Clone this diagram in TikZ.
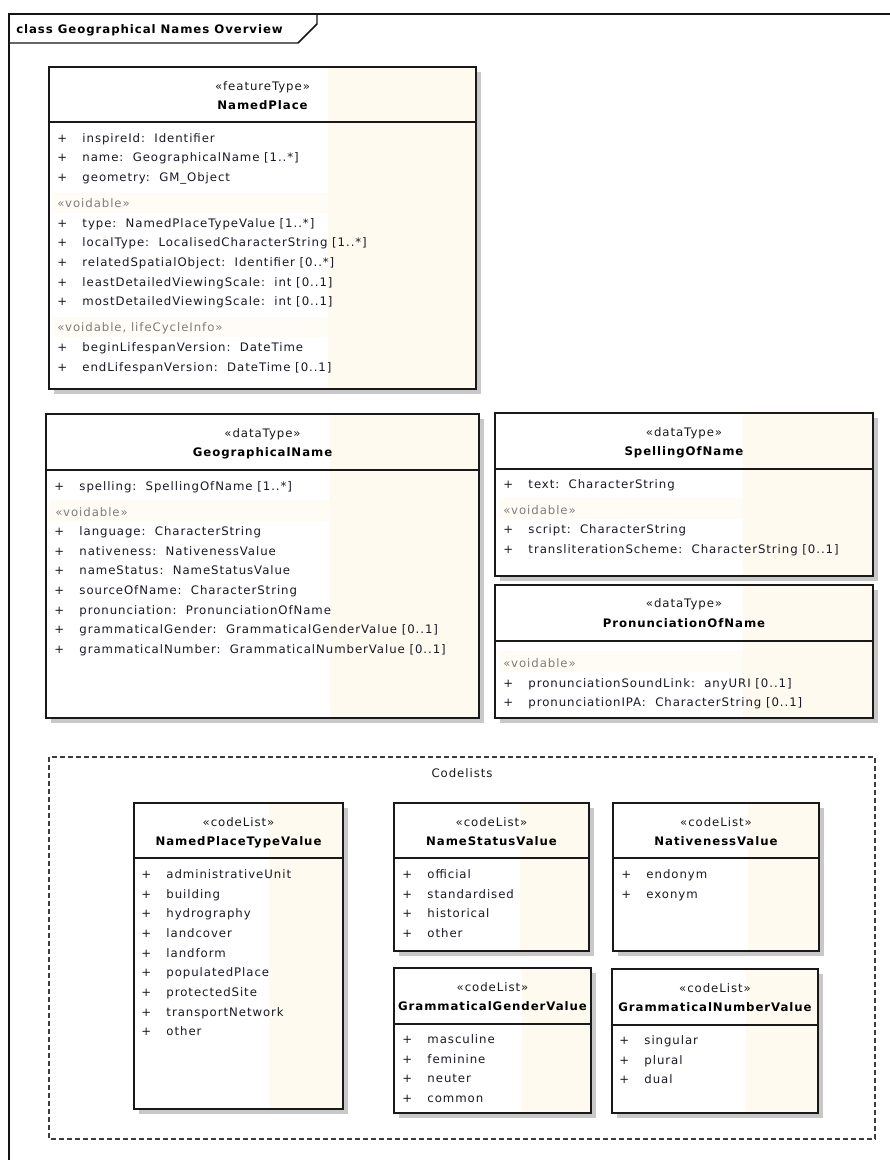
\documentclass[tikz,border=0pt]{standalone}
\usepackage{fontspec}
\newfontfamily\umlfont[LetterSpace=8]{DejaVu Sans}
\begin{document}
\begin{tikzpicture}[x=0.75pt,y=0.75pt,yscale=-1,
	font=\umlfont\fontsize{8.8}{10}\selectfont,
	frame/.style={color={rgb, 255:red, 20; green, 20; blue, 20 },line width=1.1},
	shadow/.style={draw opacity=0,fill={rgb, 255:red, 200; green, 200; blue, 200 }},
	body/.style={draw opacity=0,fill=white},
	cream/.style={draw opacity=0,fill={rgb, 255:red, 255; green, 250; blue, 240 }},
	band/.style={draw opacity=0,fill={rgb, 255:red, 255; green, 252; blue, 245 }},
	classbox/.style={color={rgb, 255:red, 25; green, 25; blue, 25 },line width=1.1},
	stereo/.style={inner sep=0pt,text height=8pt,text depth=1.2pt,color={rgb, 255:red, 25; green, 25; blue, 25 }},
	cname/.style={inner sep=0pt,text height=8pt,text depth=1.2pt,font=\umlfont\bfseries\fontsize{8.8}{10}\selectfont},
	voidable/.style={anchor=west,inner sep=0pt,text height=8pt,text depth=1.2pt,color={rgb, 255:red, 125; green, 125; blue, 125 }},
	attr/.style={anchor=west,inner sep=0pt,text height=8pt,text depth=1.2pt,color={rgb, 255:red, 25; green, 25; blue, 35 },execute at begin node={\makebox[18.9pt][l]{+}}}]
			\useasboundingbox (0,0) rectangle (889,1160);
			
			%Straight Lines
			\draw [frame] (9,1170) -- (9,14) -- (900,14) ;
			\draw [frame] (9,43) -- (298,43) -- (317,24) -- (317,14) ;
			% Text Node
			\draw (16,29) node [cname,anchor=west] (title) {class Geographical Names Overview};
			
			%Shape: Rectangle (NamedPlace)
			\draw [shadow] (54,72) rectangle (481,394) ;
			\draw [body] (49,67) rectangle (476,389) ;
			\draw [cream] (328,67) rectangle (476,389) ;
			\draw [band] (53,193) rectangle (328,213) ;
			\draw [band] (53,317) rectangle (328,337) ;
			\draw [classbox] (49,67) rectangle (476,389) ;
			\draw [classbox] (49,122) -- (476,122) ;
			% Text Node
			\draw (262.5,86) node [stereo] (npS) {«featureType»};
			\draw (262.5,105) node [cname] (npN) {NamedPlace};
			\draw (57,138) node [attr] (np1) {inspireId:~~Identifier};
			\draw (57,157) node [attr] (np2) {name:~~GeographicalName [1..*]};
			\draw (57,177) node [attr] (np3) {geometry:~~GM\_Object};
			\draw (57,203) node [voidable] (npV1) {«voidable»};
			\draw (57,223) node [attr] (np4) {type:~~NamedPlaceTypeValue [1..*]};
			\draw (57,242) node [attr] (np5) {localType:~~LocalisedCharacterString [1..*]};
			\draw (57,262) node [attr] (np6) {relatedSpatialObject:~~Identifier [0..*]};
			\draw (57,282) node [attr] (np7) {leastDetailedViewingScale:~~int [0..1]};
			\draw (57,301) node [attr] (np8) {mostDetailedViewingScale:~~int [0..1]};
			\draw (57,327) node [voidable] (npV2) {«voidable, lifeCycleInfo»};
			\draw (57,347) node [attr] (np9) {beginLifespanVersion:~~DateTime};
			\draw (57,367) node [attr] (np10) {endLifespanVersion:~~DateTime [0..1]};
			
			%Shape: Rectangle (GeographicalName)
			\draw [shadow] (51,419) rectangle (484,723) ;
			\draw [body] (46,414) rectangle (479,718) ;
			\draw [cream] (330,414) rectangle (479,718) ;
			\draw [band] (50,500) rectangle (330,521) ;
			\draw [classbox] (46,414) rectangle (479,718) ;
			\draw [classbox] (46,470) -- (479,470) ;
			% Text Node
			\draw (262.5,433) node [stereo] (gnS) {«dataType»};
			\draw (262.5,452) node [cname] (gnN) {GeographicalName};
			\draw (54,486) node [attr] (gn1) {spelling:~~SpellingOfName [1..*]};
			\draw (55,512) node [voidable] (gnV) {«voidable»};
			\draw (54,531) node [attr] (gn2) {language:~~CharacterString};
			\draw (54,551) node [attr] (gn3) {nativeness:~~NativenessValue};
			\draw (54,570) node [attr] (gn4) {nameStatus:~~NameStatusValue};
			\draw (54,590) node [attr] (gn5) {sourceOfName:~~CharacterString};
			\draw (54,610) node [attr] (gn6) {pronunciation:~~PronunciationOfName};
			\draw (54,629) node [attr] (gn7) {grammaticalGender:~~GrammaticalGenderValue [0..1]};
			\draw (54,649) node [attr] (gn8) {grammaticalNumber:~~GrammaticalNumberValue [0..1]};
			
			%Shape: Rectangle (SpellingOfName)
			\draw [shadow] (500,418) rectangle (878,581) ;
			\draw [body] (495,413) rectangle (873,576) ;
			\draw [cream] (743,413) rectangle (873,576) ;
			\draw [band] (499,498) rectangle (743,519) ;
			\draw [classbox] (495,413) rectangle (873,576) ;
			\draw [classbox] (495,469) -- (873,469) ;
			% Text Node
			\draw (684,432) node [stereo] (soS) {«dataType»};
			\draw (684,451) node [cname] (soN) {SpellingOfName};
			\draw (503,484) node [attr] (so1) {text:~~CharacterString};
			\draw (503,510) node [voidable] (soV) {«voidable»};
			\draw (503,529) node [attr] (so2) {script:~~CharacterString};
			\draw (503,549) node [attr] (so3) {transliterationScheme:~~CharacterString [0..1]};
			
			%Shape: Rectangle (PronunciationOfName)
			\draw [shadow] (500,590) rectangle (878,723) ;
			\draw [body] (495,585) rectangle (873,718) ;
			\draw [cream] (743,585) rectangle (873,718) ;
			\draw [band] (499,651) rectangle (743,672) ;
			\draw [classbox] (495,585) rectangle (873,718) ;
			\draw [classbox] (495,641) -- (873,641) ;
			% Text Node
			\draw (684,603) node [stereo] (poS) {«dataType»};
			\draw (684,623) node [cname] (poN) {PronunciationOfName};
			\draw (503,663) node [voidable] (poV) {«voidable»};
			\draw (503,683) node [attr] (po1) {pronunciationSoundLink:~~anyURI [0..1]};
			\draw (503,702) node [attr] (po2) {pronunciationIPA:~~CharacterString [0..1]};
			
			%Shape: Rectangle (Codelists package)
			\draw [color={rgb, 255:red, 60; green, 60; blue, 60 },line width=0.9,dash pattern=on 3.75pt off 2.25pt] (49,757) rectangle (875,1139) ;
			% Text Node
			\draw (462,773) node [stereo] (codelists) {Codelists};
			
			%Shape: Rectangle (NamedPlaceTypeValue)
			\draw [shadow] (139,808) rectangle (348,1114) ;
			\draw [body] (134,803) rectangle (343,1109) ;
			\draw [cream] (269,803) rectangle (343,1109) ;
			\draw [classbox] (134,803) rectangle (343,1109) ;
			\draw [classbox] (134,858) -- (343,858) ;
			% Text Node
			\draw (238.5,822) node [stereo] (ptS) {«codeList»};
			\draw (238.5,841) node [cname] (ptN) {NamedPlaceTypeValue};
			\draw (141,874) node [attr] (pt1) {administrativeUnit};
			\draw (141,894) node [attr] (pt2) {building};
			\draw (141,913) node [attr] (pt3) {hydrography};
			\draw (141,933) node [attr] (pt4) {landcover};
			\draw (141,953) node [attr] (pt5) {landform};
			\draw (141,972) node [attr] (pt6) {populatedPlace};
			\draw (141,992) node [attr] (pt7) {protectedSite};
			\draw (141,1012) node [attr] (pt8) {transportNetwork};
			\draw (141,1031) node [attr] (pt9) {other};
			
			%Shape: Rectangle (NameStatusValue)
			\draw [shadow] (399,808) rectangle (594,956) ;
			\draw [body] (394,803) rectangle (589,951) ;
			\draw [cream] (520,803) rectangle (589,951) ;
			\draw [classbox] (394,803) rectangle (589,951) ;
			\draw [classbox] (394,858) -- (589,858) ;
			% Text Node
			\draw (491.5,822) node [stereo] (nsS) {«codeList»};
			\draw (491.5,841) node [cname] (nsN) {NameStatusValue};
			\draw (402,874) node [attr] (ns1) {official};
			\draw (402,894) node [attr] (ns2) {standardised};
			\draw (402,913) node [attr] (ns3) {historical};
			\draw (402,933) node [attr] (ns4) {other};
			
			%Shape: Rectangle (NativenessValue)
			\draw [shadow] (618,808) rectangle (824,956) ;
			\draw [body] (613,803) rectangle (819,951) ;
			\draw [cream] (748,803) rectangle (819,951) ;
			\draw [classbox] (613,803) rectangle (819,951) ;
			\draw [classbox] (613,858) -- (819,858) ;
			% Text Node
			\draw (716,822) node [stereo] (nvS) {«codeList»};
			\draw (716,841) node [cname] (nvN) {NativenessValue};
			\draw (621,874) node [attr] (nv1) {endonym};
			\draw (621,894) node [attr] (nv2) {exonym};
			
			%Shape: Rectangle (GrammaticalGenderValue)
			\draw [shadow] (399,973) rectangle (596,1118) ;
			\draw [body] (394,968) rectangle (591,1113) ;
			\draw [cream] (522,968) rectangle (591,1113) ;
			\draw [classbox] (394,968) rectangle (591,1113) ;
			\draw [classbox] (394,1024) -- (591,1024) ;
			% Text Node
			\draw (492.5,987) node [stereo] (ggS) {«codeList»};
			\draw (492.5,1006) node [cname] (ggN) {GrammaticalGenderValue};
			\draw (402,1039) node [attr] (gg1) {masculine};
			\draw (402,1059) node [attr] (gg2) {feminine};
			\draw (402,1078) node [attr] (gg3) {neuter};
			\draw (402,1098) node [attr] (gg4) {common};
			
			%Shape: Rectangle (GrammaticalNumberValue)
			\draw [shadow] (617,974) rectangle (823,1118) ;
			\draw [body] (612,969) rectangle (818,1113) ;
			\draw [cream] (746,969) rectangle (818,1113) ;
			\draw [classbox] (612,969) rectangle (818,1113) ;
			\draw [classbox] (612,1025) -- (818,1025) ;
			% Text Node
			\draw (715,988) node [stereo] (gmS) {«codeList»};
			\draw (715,1007) node [cname] (gmN) {GrammaticalNumberValue};
			\draw (619,1040) node [attr] (gm1) {singular};
			\draw (619,1060) node [attr] (gm2) {plural};
			\draw (619,1079) node [attr] (gm3) {dual};
			
\end{tikzpicture}
\end{document}
